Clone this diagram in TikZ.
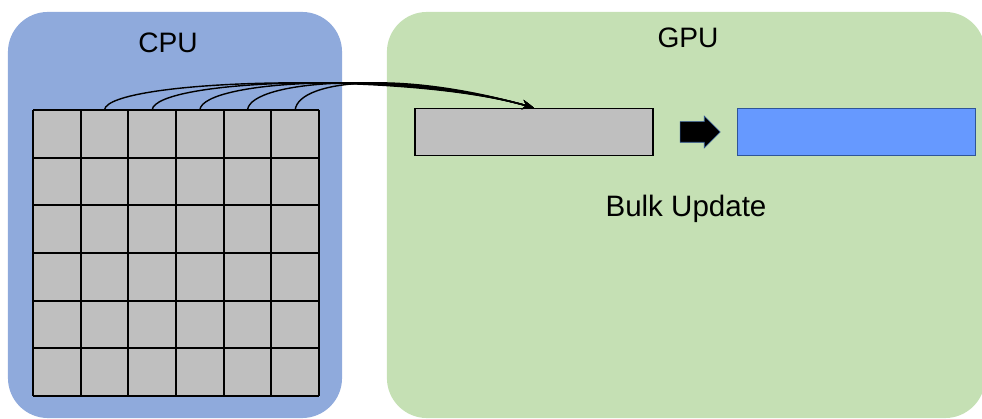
\documentclass[tikz,border=0pt]{standalone}
\usepackage{fontspec}
\setmainfont{Liberation Sans}
\usepackage{tikz}
\usepackage{xcolor}
\usetikzlibrary{shapes.arrows, arrows.meta, positioning, calc}

\definecolor{cpublue}{HTML}{8FAADC}
\definecolor{gpugreen}{HTML}{C5E0B4}
\definecolor{cellgray}{HTML}{BFBFBF}
\definecolor{bufblue}{HTML}{6699FF}
\definecolor{edgeblue}{HTML}{2F5597}

\begin{document}
\begin{tikzpicture}[
    x=0.025cm, y=-0.025cm,
    panel/.style={rectangle, rounded corners=1cm, inner sep=0pt},
    cell/.style={rectangle, fill=cellgray, minimum width=1.19cm, minimum height=1.19cm, inner sep=0pt},
    buffer/.style={rectangle, draw, line width=0.8pt, minimum width=5.95cm, minimum height=1.18cm, inner sep=0pt},
    title/.style={font=\fontsize{20}{24}\selectfont},
    link/.style={-{Stealth[length=3mm, width=2.4mm]}, line width=1pt}
]
    \clip (0,0) rectangle (982,419);
    \useasboundingbox (0,0) rectangle (982,419);

    % Containers
    \node[panel, fill=cpublue, minimum width=8.35cm, minimum height=10.15cm] (cpu) at (175,215) {};
    \node[panel, fill=gpugreen, minimum width=14.95cm, minimum height=10.15cm] (gpu) at (686,215) {};
    \node[title] (cpulbl) at (168,43) {CPU};
    \node[title] (gpulbl) at (688,38) {GPU};

    % CPU grid
    \foreach \r in {1,...,6}
        \foreach \c in {1,...,6}
            \node[cell] (c-\r-\c) at ({33+47.67*(\c-0.5)},{110+47.67*(\r-0.5)}) {};
    \foreach \i in {0,...,6} {
        \draw[line width=1.4pt] ({33+47.67*\i},110) -- ({33+47.67*\i},396);
        \draw[line width=1.4pt] (33,{110+47.67*\i}) -- (319,{110+47.67*\i});
    }

    % GPU buffers
    \node[buffer, fill=cellgray] (gbuf) at (534,132) {};
    \node[buffer, fill=bufblue, draw=edgeblue] (ubuf) at (856.5,132) {};
    \node[single arrow, draw=edgeblue, fill=black, minimum width=0.78cm, minimum height=1cm,
          single arrow head extend=0.14cm, inner xsep=0pt, inner ysep=0.25cm] (upd) at (695,132) {};
    \node[font=\fontsize{21}{25}\selectfont] (bulk) at (686,209) {Bulk Update};

    % Transfers
    \foreach \c in {2,...,6}
        \draw[link] (c-1-\c.north) .. controls ($(c-1-\c.north)+(4,-30)$) and (400,70) .. (gbuf.north);

\end{tikzpicture}
\end{document}
